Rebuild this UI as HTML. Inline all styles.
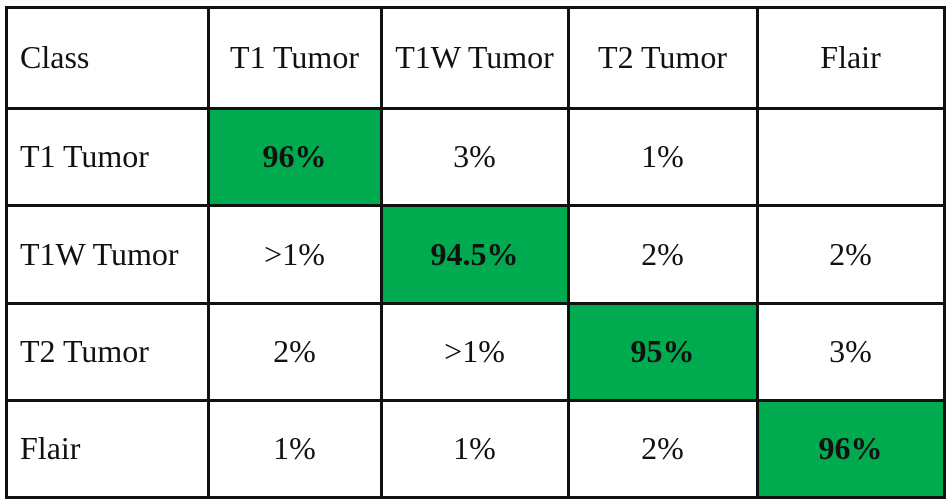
<!DOCTYPE html>
<html><head><meta charset="utf-8"><style>
body{margin:0;width:950px;height:503px;background:#fff;position:relative;overflow:hidden;font-family:"Liberation Serif",serif;}
.c{position:absolute;display:flex;align-items:center;justify-content:center;font-size:32px;color:#111;box-sizing:border-box;}
.l{justify-content:flex-start;padding-left:14px;}
.g{background:#00ab4f;font-weight:bold;}
.v{position:absolute;background:#111;}
</style></head><body>
<div id="t"></div>
<script>
const headers=["Class","T1 Tumor","T1W Tumor","T2 Tumor","Flair"];
const rowLabels=["T1 Tumor","T1W Tumor","T2 Tumor","Flair"];
const values=[["96%","3%","1%",""],[">1%","94.5%","2%","2%"],["2%",">1%","95%","3%"],["1%","1%","2%","96%"]];
const xs=[6,208,381,568,757,944];
const ys=[7,108,205,303,400,497];
const t=document.getElementById('t');
function cell(r,c,txt,cls,name){
  const d=document.createElement('div');
  d.className='c '+cls;
  d.style.left=xs[c]+'px';d.style.top=ys[r]+'px';
  d.style.width=(xs[c+1]-xs[c])+'px';d.style.height=(ys[r+1]-ys[r])+'px';
  d.textContent=txt;
  
  
  t.appendChild(d);
}
headers.forEach((h,i)=>cell(0,i,h,i===0?'l':'','header-'+i));
rowLabels.forEach((rl,r)=>{
  cell(r+1,0,rl,'l','row-label-'+r);
  values[r].forEach((v,c)=>cell(r+1,c+1,v,r===c?'g':'','cell-'+r+'-'+c));
});
xs.forEach((x,i)=>{const d=document.createElement('div');d.className='v';
  d.style.left=(x-1.5)+'px';d.style.top=(ys[0]-1.5)+'px';d.style.width='3px';d.style.height=(ys[5]-ys[0]+3)+'px';
  
  
  t.appendChild(d);});
ys.forEach((y,i)=>{const d=document.createElement('div');d.className='v';
  d.style.top=(y-1.5)+'px';d.style.left=(xs[0]-1.5)+'px';d.style.height='3px';d.style.width=(xs[5]-xs[0]+3)+'px';
  
  
  t.appendChild(d);});
</script>
</body></html>
